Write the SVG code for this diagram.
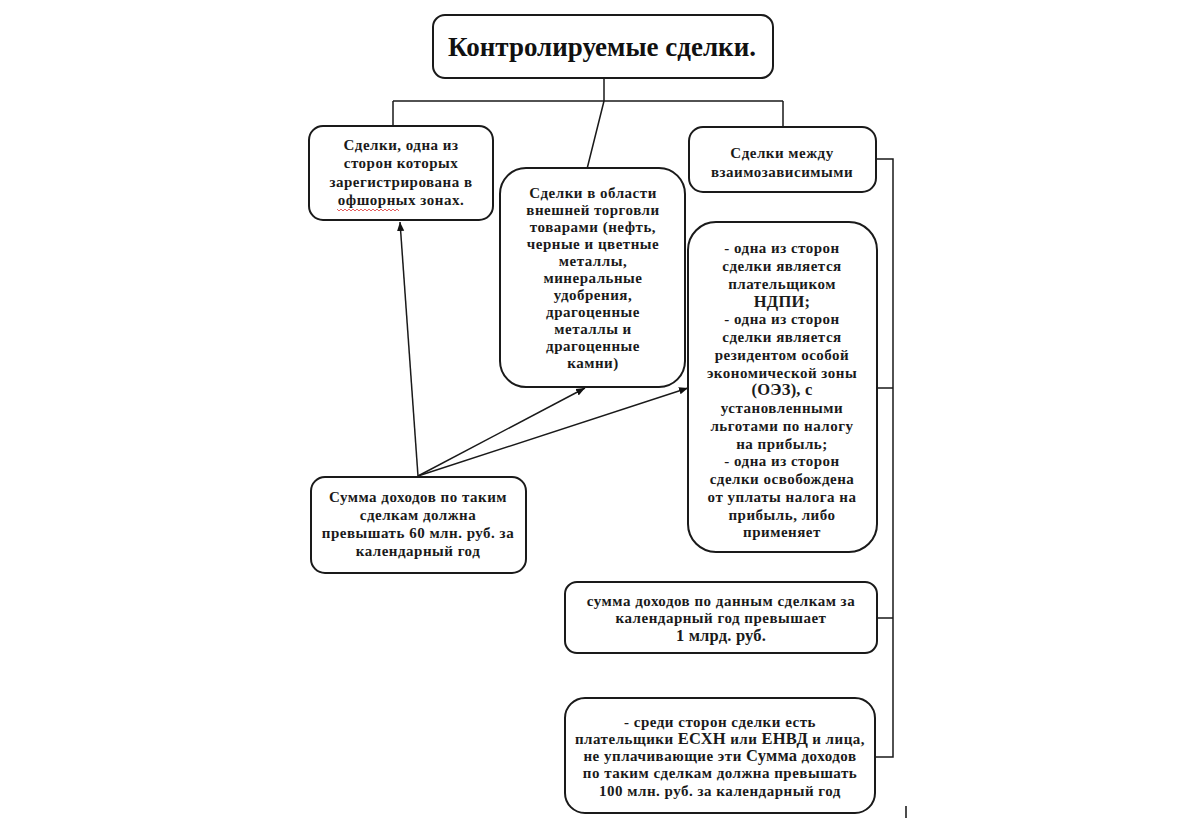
<svg xmlns="http://www.w3.org/2000/svg" width="1200" height="824" viewBox="0 0 1200 824">
<defs>
<marker id="ah" viewBox="0 0 10 10" refX="10" refY="5" markerWidth="9" markerHeight="9" markerUnits="userSpaceOnUse" orient="auto">
<path d="M0,1 L10,5 L0,9 z" fill="#111"/>
</marker>
<style>
.box{fill:#fff;stroke:#1a1a1a;stroke-width:2}
.t{font-family:"Liberation Serif","Times New Roman",serif;font-weight:bold;font-size:15px;letter-spacing:0.5px;fill:#1a1a1a;text-anchor:middle}
.big{font-size:16.5px;letter-spacing:0.2px}
.ttl{font-family:"Liberation Serif","Times New Roman",serif;font-weight:bold;font-size:27px;fill:#111;text-anchor:middle}
.c{fill:none;stroke:#1a1a1a;stroke-width:1.5}
</style>
</defs>
<rect width="1200" height="824" fill="#fff"/>
<g id="connectors">
<path class="c" d="M604,78 V101 M393,101 H783 M393,101 V127 M783,101 V127 M604,101 L587,169"/>
<path class="c" d="M877,159 H893 V757 H876 M877,388 H893 M877,618 H893"/>
<line class="c" x1="418" y1="476" x2="400" y2="222" marker-end="url(#ah)"/>
<line class="c" x1="418" y1="476" x2="585" y2="388" marker-end="url(#ah)"/>
<line class="c" x1="418" y1="476" x2="688" y2="388" marker-end="url(#ah)"/>
<line x1="906" y1="806" x2="906" y2="818" stroke="#111" stroke-width="1.5"/>
</g>
<g id="title">
<rect class="box" x="433" y="15" width="340" height="63" rx="12"/>
<text class="ttl" x="602" y="56">Контролируемые сделки.</text>
</g>
<g id="offshore">
<rect class="box" x="309" y="126" width="184" height="94" rx="14"/>
<text class="t"><tspan x="401" y="150">Сделки, одна из</tspan><tspan x="401" y="168">сторон которых</tspan><tspan x="401" y="187">зарегистрирована в</tspan><tspan x="401" y="205">офшорных зонах.</tspan></text>
<path d="M337,209 l2,2 l2,-2 l2,2 l2,-2 l2,2 l2,-2 l2,2 l2,-2 l2,2 l2,-2 l2,2 l2,-2 l2,2 l2,-2 l2,2 l2,-2 l2,2 l2,-2 l2,2 l2,-2 l2,2 l2,-2 l2,2 l2,-2 l2,2 l2,-2 l2,2 l2,-2 l2,2 l2,-2 l2,2" fill="none" stroke="#d33" stroke-width="0.8"/>
</g>
<g id="foreign-trade">
<rect class="box" x="500" y="168" width="185" height="219" rx="26"/>
<text class="t"><tspan x="593" y="198">Сделки в области</tspan><tspan x="593" y="215">внешней торговли</tspan><tspan x="593" y="232">товарами (нефть,</tspan><tspan x="593" y="249">черные и цветные</tspan><tspan x="593" y="266">металлы,</tspan><tspan x="593" y="283">минеральные</tspan><tspan x="593" y="300">удобрения,</tspan><tspan x="593" y="317">драгоценные</tspan><tspan x="593" y="334">металлы и</tspan><tspan x="593" y="351">драгоценные</tspan><tspan x="593" y="368">камни)</tspan></text>
</g>
<g id="interdependent">
<rect class="box" x="689" y="127" width="187" height="65" rx="14"/>
<text class="t"><tspan x="782" y="158">Сделки между</tspan><tspan x="782" y="177">взаимозависимыми</tspan></text>
</g>
<g id="conditions">
<rect class="box" x="688" y="222" width="189" height="330" rx="28"/>
<text class="t"><tspan x="782" y="253">- одна из сторон</tspan><tspan x="782" y="271">сделки является</tspan><tspan x="782" y="289">плательщиком</tspan><tspan x="782" y="307" class="big">НДПИ;</tspan><tspan x="782" y="324">- одна из сторон</tspan><tspan x="782" y="342">сделки является</tspan><tspan x="782" y="360">резидентом особой</tspan><tspan x="782" y="378">экономической зоны</tspan><tspan x="782" y="395" class="big">(ОЭЗ), с</tspan><tspan x="782" y="413">установленными</tspan><tspan x="782" y="431">льготами по налогу</tspan><tspan x="782" y="449">на прибыль;</tspan><tspan x="782" y="466">- одна из сторон</tspan><tspan x="782" y="484">сделки освобождена</tspan><tspan x="782" y="502">от уплаты налога на</tspan><tspan x="782" y="520">прибыль, либо</tspan><tspan x="782" y="537">применяет</tspan></text>
</g>
<g id="sum60">
<rect class="box" x="311" y="477" width="215" height="96" rx="14"/>
<text class="t"><tspan x="418" y="502">Сумма доходов по таким</tspan><tspan x="418" y="520">сделкам должна</tspan><tspan x="418" y="538">превышать 60 млн. руб. за</tspan><tspan x="418" y="556">календарный год</tspan></text>
</g>
<g id="sum1bn">
<rect class="box" x="565" y="582" width="312" height="71" rx="12"/>
<text class="t"><tspan x="721" y="606">сумма доходов по данным сделкам за</tspan><tspan x="721" y="623">календарный год превышает</tspan><tspan x="721" y="641" class="big">1 млрд. руб.</tspan></text>
</g>
<g id="esxn">
<rect class="box" x="565" y="698" width="310" height="115" rx="20"/>
<text class="t"><tspan x="720" y="727">- среди сторон сделки есть</tspan><tspan x="720" y="744">плательщики <tspan class="big">ЕСХН</tspan> или <tspan class="big">ЕНВД</tspan> и лица,</tspan><tspan x="720" y="761">не уплачивающие эти <tspan class="big">Сумма</tspan> доходов</tspan><tspan x="720" y="778">по таким сделкам должна превышать</tspan><tspan x="720" y="796">100 млн. руб. за календарный год</tspan></text>
</g>
</svg>
